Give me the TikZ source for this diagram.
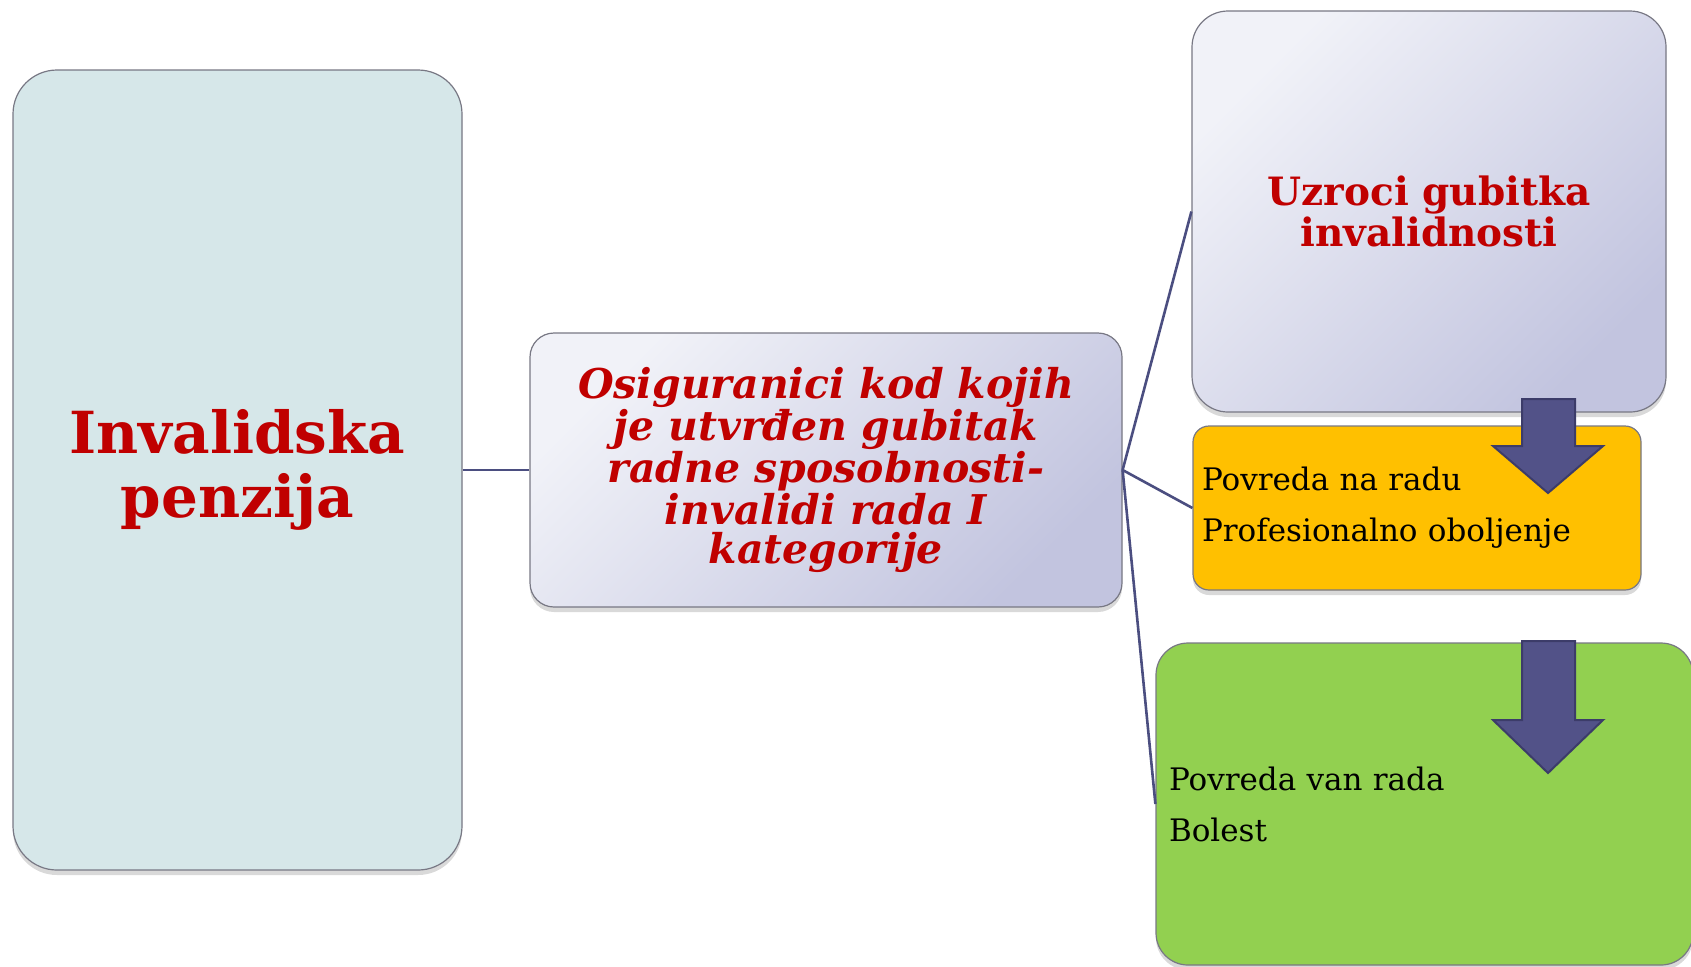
\documentclass[tikz,border=0pt]{standalone}
\usepackage{fontspec}
\setmainfont{DejaVu Serif}
\usetikzlibrary{shadows}

\definecolor{titlered}{RGB}{192,0,0}
\definecolor{linkblue}{RGB}{75,78,128}
\definecolor{paleblue}{RGB}{214,231,233}
\definecolor{lavlight}{RGB}{241,242,248}
\definecolor{lavdark}{RGB}{194,196,223}
\definecolor{boxorange}{RGB}{255,192,0}
\definecolor{boxgreen}{RGB}{146,208,80}
\definecolor{arrowfill}{RGB}{82,82,136}
\definecolor{arrowedge}{RGB}{60,60,105}
\definecolor{edgegrey}{RGB}{120,120,132}

\tikzset{%
  % Specifications for style of nodes:
         base/.style = {rectangle, draw=edgegrey, line width=0.6pt, inner sep=0pt,
                        drop shadow={shadow xshift=0pt, shadow yshift=-2.5pt, opacity=0.3}},
      mainbox/.style = {base, rounded corners=22pt, fill=paleblue, text=titlered,
                        align=center, font=\bfseries\fontsize{29}{32}\selectfont},
       lavbox/.style = {base, left color=lavlight, right color=lavdark,
                        shading angle=45, text=titlered, align=center},
     causebox/.style = {base, align=left, text=black,
                        font=\fontsize{15.5}{25.5}\selectfont},
       link/.style = {draw=linkblue, line width=1.3pt},
   blockarrow/.style = {fill=arrowfill, draw=arrowedge, line width=1pt, line join=miter},
}

\begin{document}
\begin{tikzpicture}[x=0.5pt, y=-0.5pt]
  \useasboundingbox (0,0) rectangle (1691,966);

  % Specification of nodes (position, etc.)
  \node (pension) [mainbox, minimum width=224.5pt, minimum height=400pt]
        at (237.5,470) {Invalidska\\penzija};
  \node (insured) [lavbox, rounded corners=12pt, minimum width=296pt, minimum height=137pt,
        font=\bfseries\itshape\fontsize{20.5}{19.8}\selectfont]
        at (826,470) {Osiguranici kod kojih\\je utvrđen gubitak\\radne sposobnosti-\\invalidi rada I\\kategorije};
  \node (causes)  [lavbox, rounded corners=18pt, minimum width=237pt, minimum height=200.5pt,
        font=\bfseries\fontsize{19.5}{20.5}\selectfont]
        at (1429,211.5) {Uzroci gubitka\\invalidnosti};
  \node (atwork)  [causebox, fill=boxorange, rounded corners=8pt, inner xsep=4.5pt,
        text width=215pt, minimum height=82pt]
        at (1417,508) {Povreda na radu\\Profesionalno oboljenje};
  \node (offwork) [causebox, fill=boxgreen, rounded corners=16pt, inner xsep=6.5pt,
        text width=255.5pt, minimum height=161pt]
        at (1424.5,804) {Povreda van rada\\Bolest};

  % block arrows
  \foreach \ya/\yb/\yc in {399/446/493, 641/720/773}
    \draw[blockarrow] (1522,\ya) -- (1575,\ya) -- (1575,\yb) -- (1603,\yb)
                      -- (1548,\yc) -- (1493,\yb) -- (1522,\yb) -- cycle;

  % Specification of lines between nodes specified above
  \draw[link] (pension.east) -- (insured.west);
  \draw[link] (insured.east) -- (causes.west);
  \draw[link] (insured.east) -- (atwork.west);
  \draw[link] (insured.east) -- (offwork.west);

\end{tikzpicture}
\end{document}
